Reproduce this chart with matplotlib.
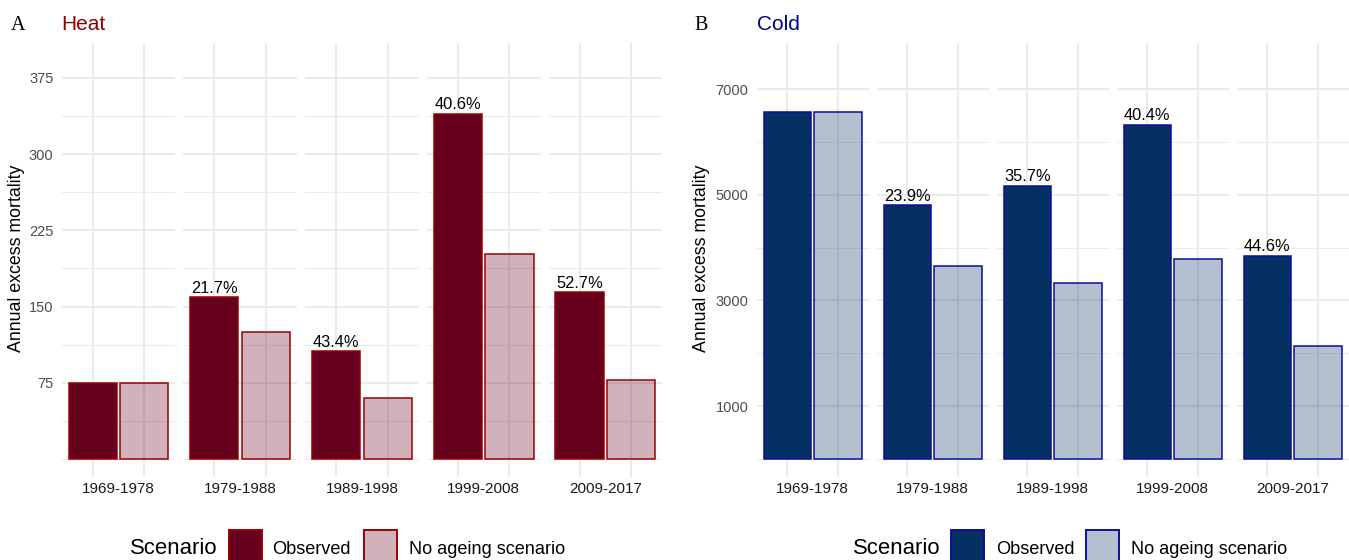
import matplotlib
matplotlib.use("Agg")
import matplotlib.pyplot as plt
from matplotlib.colors import to_rgba
from matplotlib.patches import Rectangle

# data
periods = ['1969-1978', '1979-1988', '1989-1998', '1999-2008', '2009-2017']
heat_observed = [75, 159, 106, 339.5, 164]
heat_no_ageing = [74.5, 124.5, 60, 202, 78]
heat_labels = ['', '21.7%', '43.4%', '40.6%', '52.7%']
cold_observed = [6580, 4800, 5175, 6330, 3850]
cold_no_ageing = [6580, 3655, 3330, 3785, 2140]
cold_labels = ['', '23.9%', '35.7%', '40.4%', '44.6%']
heat_ticks = [75, 150, 225, 300, 375]
heat_minor = [0, 37.5, 112.5, 187.5, 262.5, 337.5]
cold_ticks = [1000, 3000, 5000, 7000]
cold_minor = [0, 2000, 4000, 6000]
scenarios = ['Observed', 'No ageing scenario']

W, H = 1349, 560
plt.rcParams['font.family'] = ['Liberation Sans', 'DejaVu Sans']
fig = plt.figure(figsize=(W / 100, H / 100), dpi=100)

GRID = '#EBEBEB'
TOP, BOT = 43, 476.7


def px_box(x0, y0, w, h):
    return [x0 / W, 1 - (y0 + h) / H, w / W, h / H]


def draw_panel(lefts, fw, obs, age, labels, ticks, minor, ylim, fill, edge,
               letter, title, title_col, letter_x, ylab_x):
    for i, left in enumerate(lefts):
        ax = fig.add_axes(px_box(left, TOP, fw, BOT - TOP))
        ax.set_xlim(0.4, 2.6)
        ax.set_ylim(*ylim)
        for y in minor:
            ax.axhline(y, color=GRID, lw=0.75, zorder=0)
        for y in ticks:
            ax.axhline(y, color=GRID, lw=1.5, zorder=0)
        for x in (1, 2):
            ax.axvline(x, color=GRID, lw=1.5, zorder=0)
        ax.bar([1, 2], [obs[i], age[i]], width=0.93,
               color=[to_rgba(fill), to_rgba(fill, 0.3)],
               edgecolor=edge, linewidth=1.1, zorder=2)
        if labels[i]:
            ax.annotate(labels[i], (1, obs[i]), xytext=(0, 3.2),
                        textcoords='offset points', ha='center',
                        va='baseline', fontsize=11.8, color='black')
        ax.annotate(periods[i], (0.5, 0), xycoords='axes fraction',
                    xytext=(0, -9), textcoords='offset points',
                    ha='center', va='center', fontsize=11, color='#1A1A1A')
        for s in ax.spines.values():
            s.set_visible(False)
        ax.set_xticks([])
        ax.set_yticks(ticks)
        ax.tick_params(axis='y', length=0, pad=6, labelsize=10.5,
                       labelcolor='#4D4D4D')
        if i > 0:
            ax.set_yticklabels([])
    fig.text(letter_x / W, 1 - 29.5 / H, letter, family='Liberation Serif',
             fontsize=14.5, ha='center', va='baseline', color='black')
    fig.text(lefts[0] / W, 1 - 29.5 / H, title, fontsize=15,
             ha='left', va='baseline', color=title_col)
    fig.text(ylab_x / W, 1 - 258 / H, 'Annual excess mortality',
             rotation=90, fontsize=12.8, ha='center', va='center',
             color='black')


def draw_legend(title_x, key_x, text_x, fill, edge):
    fig.text(title_x / W, 1 - 549 / H, 'Scenario', fontsize=15.9,
             ha='left', va='center')
    for kx, tx, lab, a in zip(key_x, text_x, scenarios, (1, 0.3)):
        fig.patches.append(Rectangle((kx / W, 1 - 572 / H), 33 / W, 42 / H,
                                     transform=fig.transFigure,
                                     facecolor=to_rgba(fill, a),
                                     edgecolor=edge, linewidth=1.4))
        fig.text(tx / W, 1 - 549 / H, lab, fontsize=13.1,
                 ha='left', va='center')


heat_lefts = [61.7 + 121.7 * k for k in range(5)]
cold_lefts = [756.7 + 120 * k for k in range(5)]

draw_panel(heat_lefts, 113.7, heat_observed, heat_no_ageing, heat_labels,
           heat_ticks, heat_minor, (-17.4, 409.2), '#67001F', '#9B0000',
           'A', 'Heat', '#8B0000', 18, 17)
draw_panel(cold_lefts, 112, cold_observed, cold_no_ageing, cold_labels,
           cold_ticks, cold_minor, (-339, 7878), '#053061', '#0D0D9E',
           'B', 'Cold', '#00008B', 701, 702)

draw_legend(130, [229, 364], [272, 409], '#67001F', '#9B0000')
draw_legend(853, [951, 1086], [996, 1131], '#053061', '#0D0D9E')

fig.savefig('out.png', dpi=100)
